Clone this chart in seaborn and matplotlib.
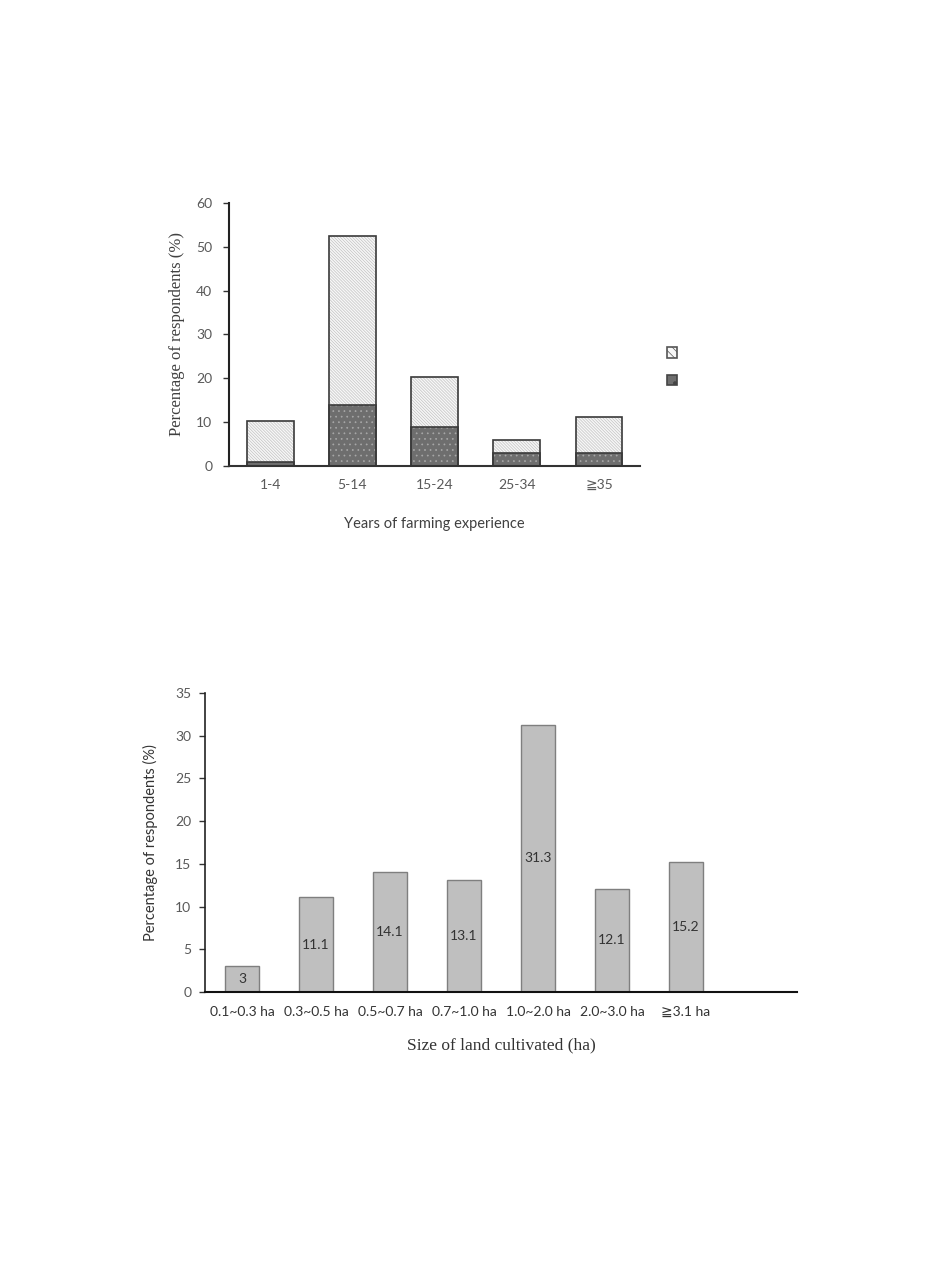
import matplotlib
matplotlib.use("Agg")
import matplotlib.pyplot as plt
import matplotlib.patches as mpatches
import seaborn as sns
import pandas as pd

# ---- data ----
exp_categories = ["1-4", "5-14", "15-24", "25-34", "≧35"]
exp_total = [10.2, 52.5, 20.2, 6.0, 11.1]
exp_dark = [1.0, 14.0, 9.0, 3.0, 3.0]

land_categories = ["0.1~0.3 ha", "0.3~0.5 ha", "0.5~0.7 ha", "0.7~1.0 ha",
                   "1.0~2.0 ha", "2.0~3.0 ha", "≧3.1 ha"]
land_values = [3, 11.1, 14.1, 13.1, 31.3, 12.1, 15.2]

sns.set_theme(style="white")
plt.rcParams['font.family'] = ['Lato', 'DejaVu Sans']
plt.rcParams['hatch.linewidth'] = 0.5

SANS = ['Lato', 'DejaVu Sans']
SERIF = ['Liberation Serif', 'DejaVu Serif']
TICKC = '#595959'

fig = plt.figure(figsize=(9.41, 12.87), dpi=100)

# ---------- top chart ----------
ax1 = fig.add_axes([0.2434, 0.6379, 0.4368, 0.2044])
df1 = pd.DataFrame({"cat": exp_categories, "total": exp_total, "dark": exp_dark})

LIGHT_HATCH = '\\' * 11
DARK_HATCH = '...'


def styled_bar(ax, y, face, edge, hatch, lw, width):
    n0 = len(ax.patches)
    sns.barplot(data=df1, x="cat", y=y, ax=ax, width=width, color='white')
    for p in ax.patches[n0:]:
        p.set_facecolor(face)
        p.set_edgecolor(edge)
        p.set_hatch(hatch)
        p.set_linewidth(lw)


W1 = 0.57
styled_bar(ax1, "total", '#f7f7f7', '#c2c2c2', LIGHT_HATCH, 0, W1)
styled_bar(ax1, "dark", '#6e6e6e', '#a8a8a8', DARK_HATCH, 0, W1)
# outlines
for y in ["total", "dark"]:
    n0 = len(ax1.patches)
    sns.barplot(data=df1, x="cat", y=y, ax=ax1, width=W1, color='white')
    for p in ax1.patches[n0:]:
        p.set_facecolor('none')
        p.set_edgecolor('#3a3a3a')
        p.set_linewidth(1.2)
        p.set_hatch(None)

ax1.set_ylim(0, 60)
ax1.set_xlim(-0.5, 4.5)
ax1.set_yticks(range(0, 61, 10))
for s in ["top", "right"]:
    ax1.spines[s].set_visible(False)
ax1.spines["left"].set_color('#222222')
ax1.spines["left"].set_linewidth(1.5)
ax1.spines["bottom"].set_color('#333333')
ax1.spines["bottom"].set_linewidth(1.5)
ax1.tick_params(axis='y', left=True, length=4, width=1, color='#333333',
                labelsize=10, labelcolor=TICKC, pad=8)
ax1.tick_params(axis='x', bottom=False, labelsize=10, labelcolor=TICKC, pad=3)
ax1.set_xlabel("Years of farming experience", fontsize=10.5, color='#404040',
               family=SANS, labelpad=19)
ax1.set_ylabel("Percentage of respondents (%)", fontsize=12, color='#404040',
               family=SERIF, labelpad=8)

h_light = mpatches.Patch(facecolor='#f7f7f7', edgecolor='#555555', hatch='\\\\\\\\', linewidth=1.2)
h_dark = mpatches.Patch(facecolor='#6e6e6e', edgecolor='#444444', hatch='.', linewidth=1.2)
fig.legend([h_light, h_dark], ['', ''], loc='center left',
           bbox_to_anchor=(0.694, 0.7145), frameon=False, handlelength=0.7,
           handleheight=0.7, labelspacing=0.9, handletextpad=0)

# ---------- bottom chart ----------
ax2 = fig.add_axes([0.2179, 0.2292, 0.6291, 0.2323])
df2 = pd.DataFrame({"cat": land_categories, "value": land_values})
sns.barplot(data=df2, x="cat", y="value", ax=ax2, width=0.46, color='#bfbfbf',
            edgecolor='#7f7f7f', linewidth=1.0, saturation=1)
ax2.set_xlim(-0.5, 7.5)
ax2.set_ylim(0, 35)
ax2.set_yticks(range(0, 36, 5))
for s in ["top", "right"]:
    ax2.spines[s].set_visible(False)
ax2.spines["left"].set_color('#222222')
ax2.spines["left"].set_linewidth(1.2)
ax2.spines["bottom"].set_color('#111111')
ax2.spines["bottom"].set_linewidth(1.5)
ax2.tick_params(axis='y', left=True, length=4, width=1, color='#333333',
                labelsize=10, labelcolor=TICKC, pad=6)
ax2.tick_params(axis='x', bottom=False, labelsize=10, labelcolor='#333333', pad=4)
for lbl in ax2.get_xticklabels():
    lbl.set_family(SANS)
for p, v in zip(ax2.patches, land_values):
    ax2.text(p.get_x() + p.get_width() / 2, v / 2, f"{v:g}", ha='center',
             va='center', fontsize=10, color='#333333', family=SANS)
ax2.set_xlabel("Size of land cultivated (ha)", fontsize=12.5, color='#333333',
               family=SERIF, labelpad=14)
ax2.set_ylabel("Percentage of respondents (%)", fontsize=10.5, color='#333333',
               family=SANS, labelpad=12)

fig.savefig("out.png", dpi=100)
